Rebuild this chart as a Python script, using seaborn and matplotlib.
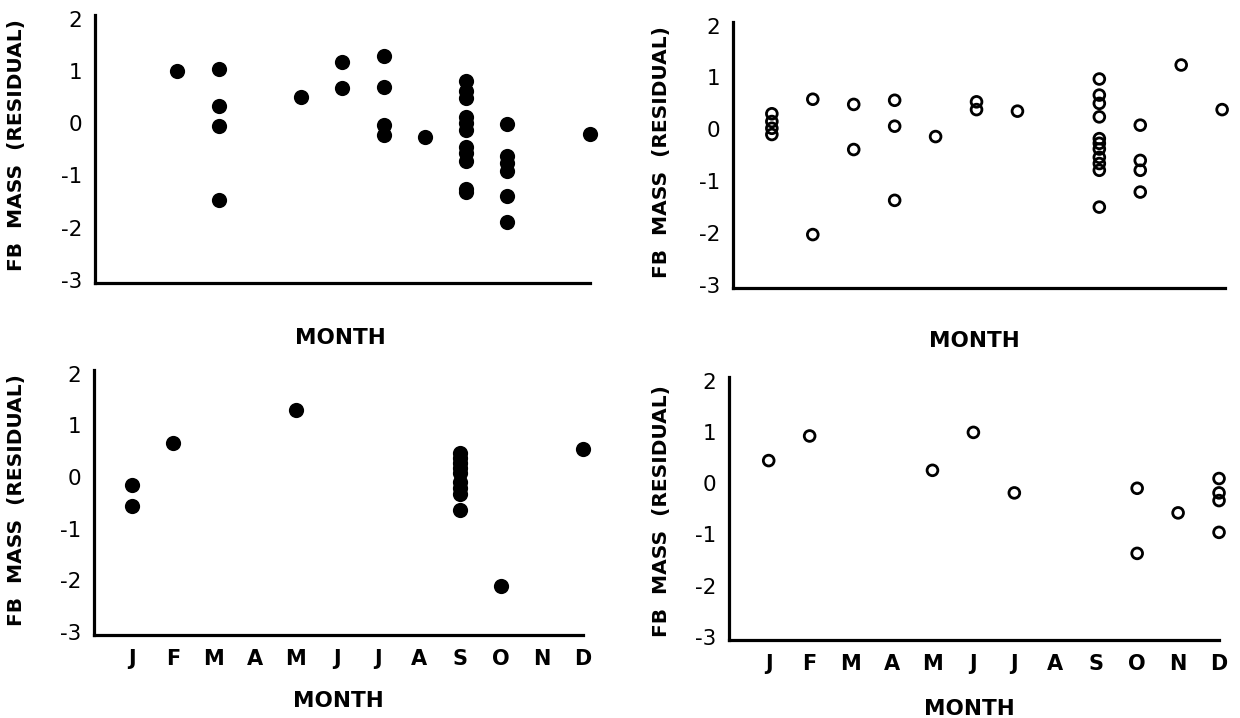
import matplotlib
matplotlib.use("Agg")
import matplotlib.pyplot as plt
import seaborn as sns
import pandas as pd

# ---------------- data ----------------
month_labels = ['J', 'F', 'M', 'A', 'M', 'J', 'J', 'A', 'S', 'O', 'N', 'D']
y_ticks = [-3, -2, -1, 0, 1, 2]
y_tick_labels = ['-3', '-2', '-1', '0', '1', '2']
y_label = 'FB  MASS  (RESIDUAL)'
x_label = 'MONTH'

# top-left (filled circles)
tl_month = [2, 3, 3, 3, 3, 5, 6, 6, 7, 7, 7, 7, 8,
            9, 9, 9, 9, 9, 9, 9, 9, 9, 9, 9,
            10, 10, 10, 10, 10, 10, 12]
tl_resid = [1.0, 1.03, 0.33, -0.06, -1.48, 0.51, 1.18, 0.67, 1.29, 0.69, -0.03, -0.22, -0.26,
            0.81, 0.62, 0.48, 0.12, 0.0, -0.14, -0.45, -0.58, -0.72, -1.26, -1.32,
            -0.02, -0.63, -0.77, -0.91, -1.40, -1.89, -0.2]

# top-right (open circles)
tr_month = [1, 1, 1, 1, 2, 2, 3, 3, 4, 4, 4, 5, 6, 6, 7,
            9, 9, 9, 9, 9, 9, 9, 9, 9, 9, 9,
            10, 10, 10, 10, 11, 12]
tr_resid = [0.3, 0.15, 0.02, -0.1, 0.58, -2.03, 0.48, -0.39, 0.56, 0.06, -1.37, -0.14, 0.53, 0.38, 0.35,
            0.97, 0.66, 0.50, 0.24, -0.18, -0.27, -0.38, -0.54, -0.66, -0.79, -1.50,
            0.08, -0.6, -0.79, -1.21, 1.24, 0.38]

# bottom-left (filled circles)
bl_month = [1, 1, 2, 5, 9, 9, 9, 9, 9, 9, 9, 9, 9, 10, 12]
bl_resid = [-0.15, -0.57, 0.66, 1.30, 0.47, 0.37, 0.27, 0.17, 0.08, -0.1, -0.22, -0.34, -0.64, -2.11, 0.55]

# bottom-right (open circles)
br_month = [1, 2, 5, 6, 7, 10, 10, 11, 12, 12, 12, 12]
br_resid = [0.44, 0.92, 0.25, 0.99, -0.19, -0.10, -1.37, -0.58, 0.09, -0.19, -0.34, -0.96]

# ---------------- style ----------------
sns.set_style('white')
plt.rcParams['font.family'] = ['DejaVu Sans']
plt.rcParams['text.color'] = 'black'
plt.rcParams['axes.labelcolor'] = 'black'
plt.rcParams['xtick.color'] = 'black'
plt.rcParams['ytick.color'] = 'black'

fig = plt.figure(figsize=(12.4, 7.18), dpi=100)

panels = [
    dict(m=tl_month, r=tl_resid, filled=True, rect=[0.0766, 0.6058, 0.3992, 0.3733],
         xlim=(0.0, 12.0), months=False, xl=(0.495, -0.168), yl=(-0.139, 0.515)),
    dict(m=tr_month, r=tr_resid, filled=False, rect=[0.5911, 0.5989, 0.3968, 0.3705],
         xlim=(0.05, 12.07), months=False, xl=(0.49, -0.162), yl=(-0.126, 0.51)),
    dict(m=bl_month, r=bl_resid, filled=True, rect=[0.0758, 0.1156, 0.3944, 0.3691],
         xlim=(0.08, 11.9), months=True, xl=(0.50, -0.211), yl=(-0.139, 0.51)),
    dict(m=br_month, r=br_resid, filled=False, rect=[0.5879, 0.1086, 0.3952, 0.3663],
         xlim=(0.03, 11.95), months=True, xl=(0.49, -0.224), yl=(-0.118, 0.49)),
]

for p in panels:
    ax = fig.add_axes(p['rect'])
    df = pd.DataFrame({'month': p['m'], 'resid': p['r']})
    if p['filled']:
        sns.scatterplot(data=df, x='month', y='resid', ax=ax, s=120, color='black',
                        edgecolor='black', linewidth=0, clip_on=False, zorder=3)
    else:
        sns.scatterplot(data=df, x='month', y='resid', ax=ax, s=60, facecolor='none',
                        edgecolor='black', linewidth=2.0, clip_on=False, zorder=3)
    ax.set_xlim(*p['xlim'])
    ax.set_ylim(-3.06, 2.07)
    for side in ['top', 'right']:
        ax.spines[side].set_visible(False)
    for side in ['left', 'bottom']:
        ax.spines[side].set_linewidth(2.3)
        ax.spines[side].set_color('black')
    ax.set_yticks(y_ticks)
    ax.set_yticklabels(y_tick_labels, fontsize=15.5)
    ax.tick_params(axis='y', length=0, pad=9)
    if p['months']:
        ax.set_xticks(range(1, 13))
        ax.set_xticklabels(month_labels, fontsize=15, fontweight='bold')
        ax.tick_params(axis='x', length=0, pad=10)
    else:
        ax.set_xticks([])
    ax.set_xlabel(x_label, fontsize=15.5, fontweight='bold')
    ax.xaxis.set_label_coords(*p['xl'])
    ax.set_ylabel(y_label, fontsize=14.5, fontweight='bold')
    ax.yaxis.set_label_coords(*p['yl'])
    ax.grid(False)

fig.savefig('out.png', dpi=100, facecolor='white')
